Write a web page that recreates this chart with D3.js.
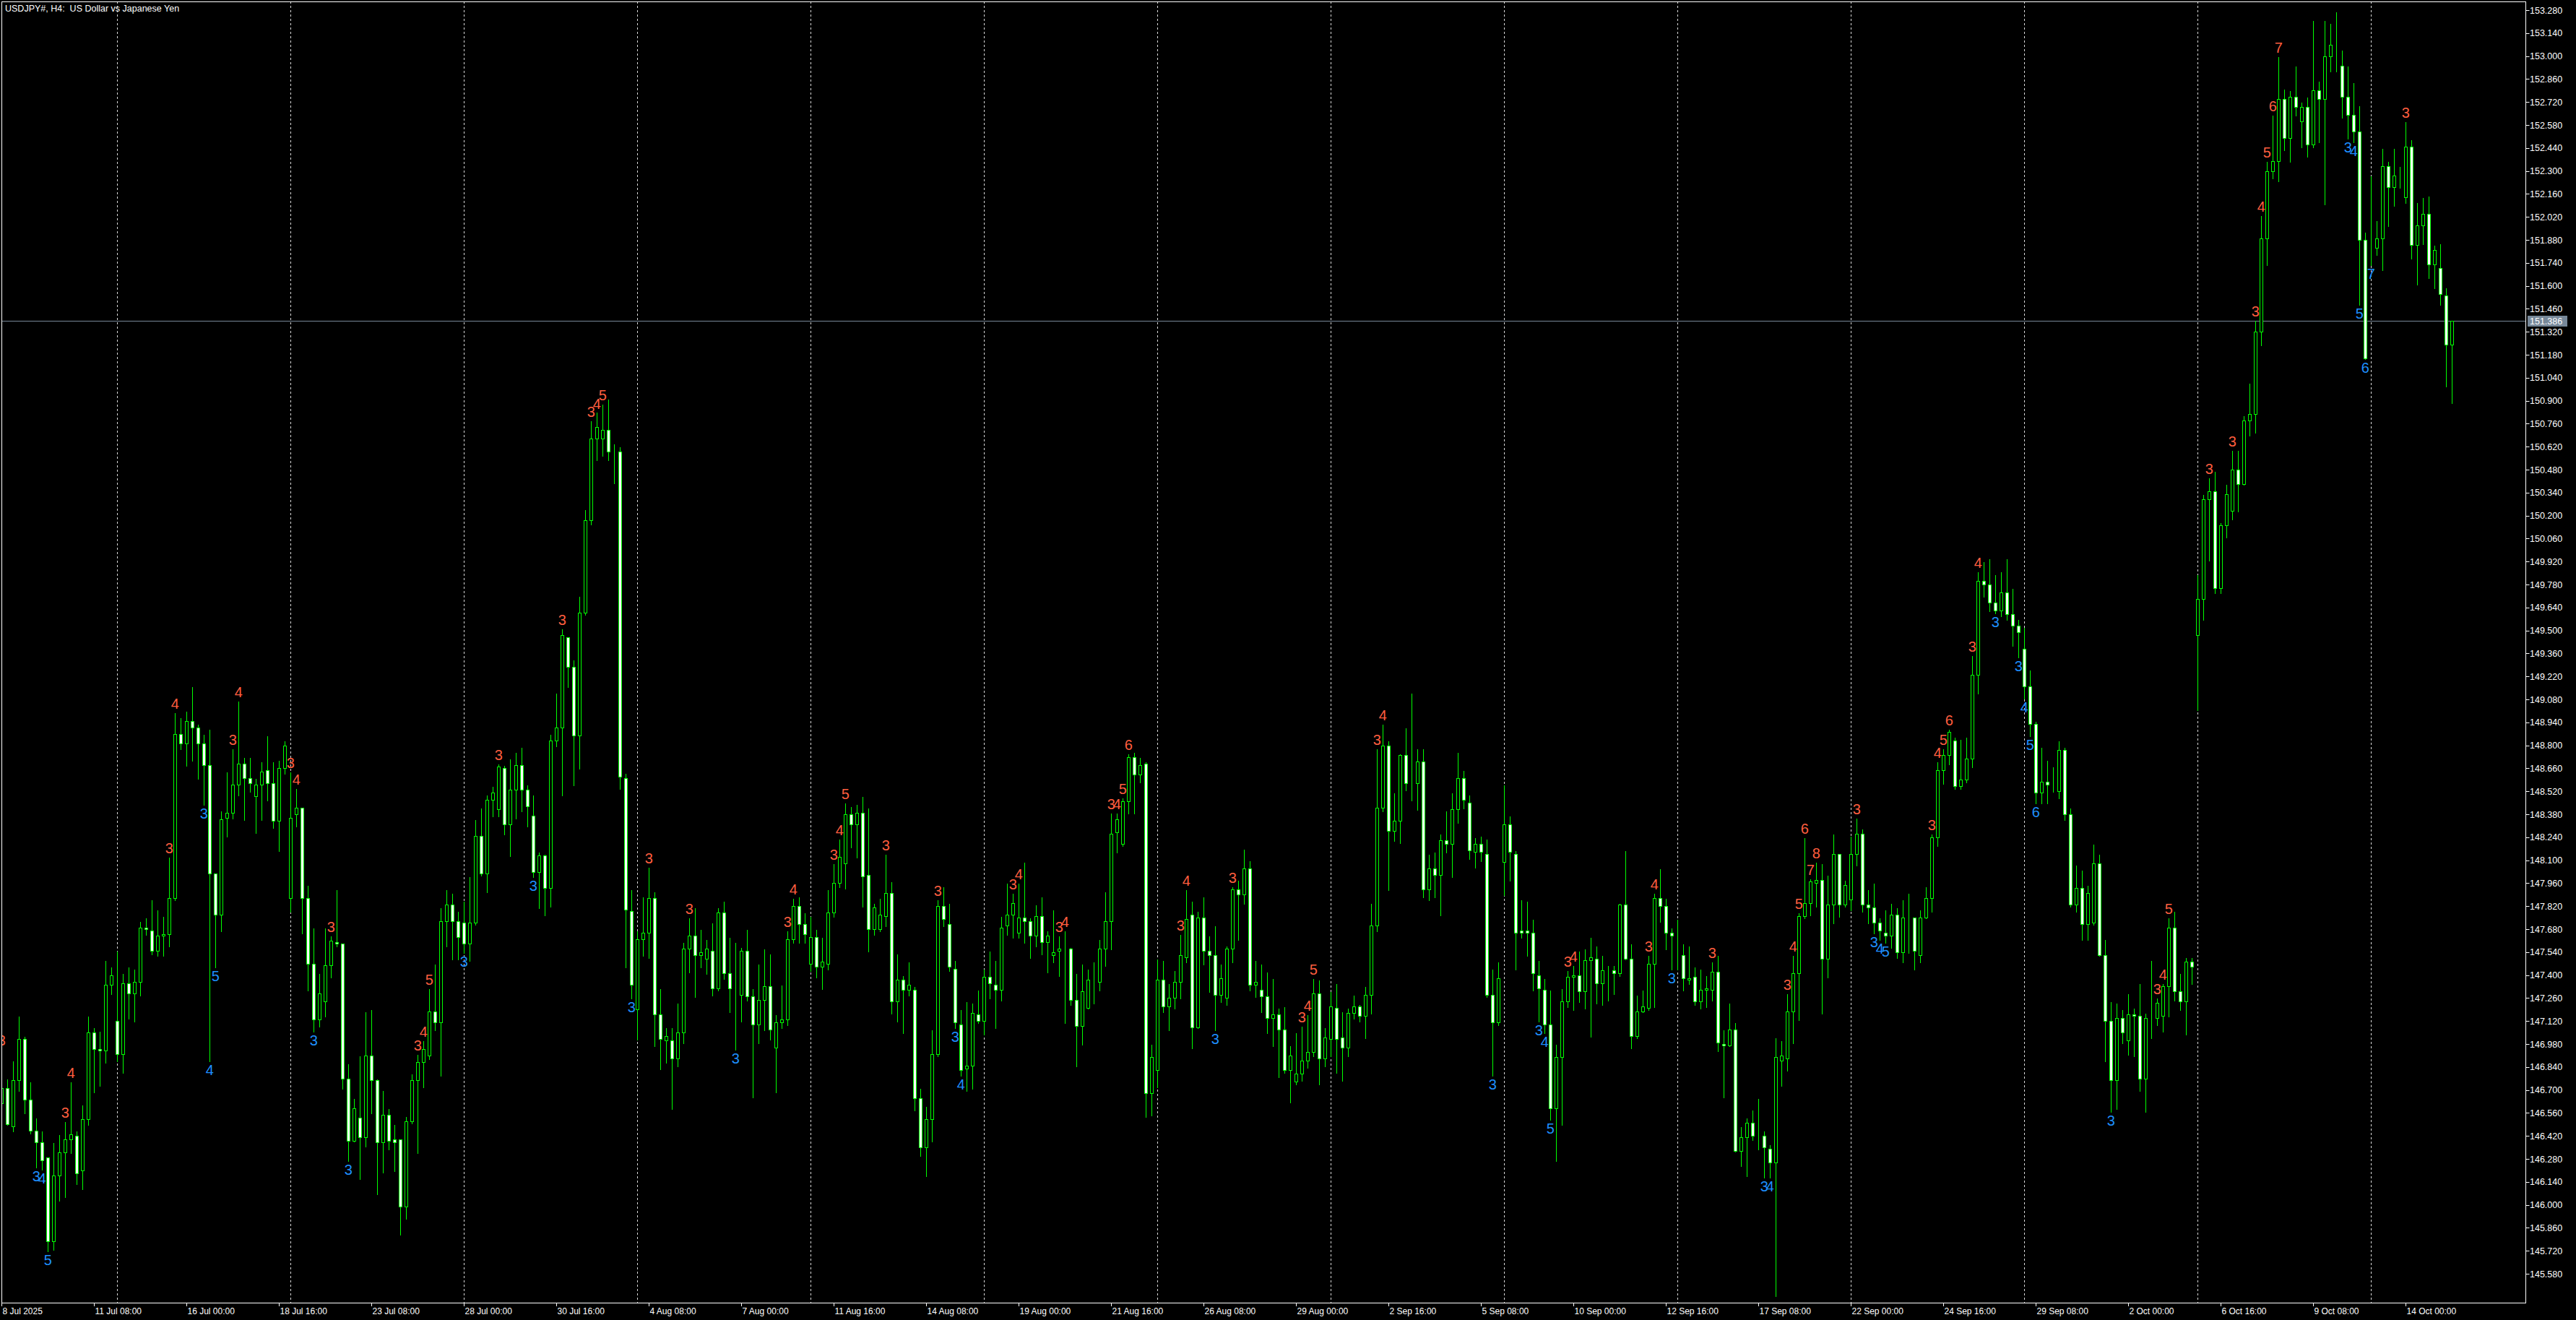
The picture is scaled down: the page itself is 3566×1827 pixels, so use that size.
<!DOCTYPE html>
<html>
<head>
<meta charset="utf-8">
<script src="https://cdn.jsdelivr.net/npm/d3@7"></script>
<style>
  html, body { margin: 0; padding: 0; background: #000; }
  svg { display: block; }
  text { font-family: "Liberation Sans", Arial, sans-serif; }
</style>
</head>
<body>
<svg id="chart"></svg>
<script>
const symbolTitle = "USDJPY#, H4:  US Dollar vs Japanese Yen";

// H4 bars, [open, high, low, close], first bar 8 Jul 16:00
const bars = [
  // 8 Jul - 11 Jul
  [146.62,146.95,146.58,146.71],[146.71,146.77,146.49,146.49],[146.48,146.88,146.45,146.76],[146.76,147.15,146.70,147.01],
  [147.01,147.03,146.56,146.64],[146.64,146.75,146.44,146.45],[146.45,146.53,146.23,146.38],[146.38,146.45,146.22,146.27],
  [146.29,146.29,145.72,145.78],[145.78,146.38,145.73,146.18],[146.18,146.43,146.03,146.32],[146.32,146.51,146.05,146.40],
  [146.40,146.75,146.32,146.43],[146.42,146.45,146.13,146.19],[146.21,146.61,146.10,146.52],[146.52,147.15,146.49,147.05],
  [147.05,147.08,146.69,146.95],[146.95,147.06,146.73,146.94],[146.94,147.49,146.87,147.34],[147.34,147.45,147.29,147.40],
  // 14 Jul
  [147.12,147.55,146.88,146.92],[146.92,147.41,146.81,147.35],[147.35,147.45,147.14,147.29],[147.29,147.44,147.12,147.36],
  [147.36,147.73,147.28,147.69],[147.69,147.75,147.65,147.68],[147.67,147.86,147.53,147.55],[147.55,147.80,147.52,147.64],
  [147.64,147.76,147.52,147.65],[147.65,148.12,147.58,147.87],[147.87,149.00,147.86,148.87],[148.87,148.97,148.78,148.81],
  [148.81,149.01,148.68,148.95],[148.95,149.16,148.71,148.91],[148.91,148.93,148.60,148.81],[148.81,148.87,148.44,148.68],
  [148.68,148.90,146.88,148.02],[148.02,148.02,147.45,147.77],[147.77,148.40,147.67,148.35],[148.36,148.64,148.25,148.39],
  [148.39,148.78,148.36,148.56],[148.56,149.07,148.50,148.69],[148.69,148.73,148.35,148.60],[148.60,148.73,148.52,148.57],
  [148.49,148.60,148.27,148.56],[148.56,148.70,148.35,148.64],[148.65,148.86,148.47,148.57],[148.57,148.70,148.30,148.34],
  [148.34,148.71,148.16,148.66],[148.66,148.83,148.63,148.80],
  // 21 Jul
  [147.87,148.64,147.79,148.36],[148.38,148.54,148.31,148.42],[148.42,148.42,147.66,147.87],[147.87,147.95,147.31,147.47],
  [147.47,147.69,147.06,147.13],[147.13,147.41,147.09,147.29],[147.24,147.69,147.15,147.46],[147.46,147.64,147.39,147.61],
  [147.60,147.92,147.58,147.59],[147.59,147.59,146.71,146.77],[146.77,146.86,146.27,146.39],[146.39,146.65,146.39,146.59],
  [146.53,146.91,146.16,146.41],[146.41,147.18,146.36,146.91],[146.91,147.19,146.56,146.76],[146.76,146.77,146.07,146.38],
  [146.38,146.70,146.20,146.55],[146.55,146.59,146.34,146.39],[146.40,146.49,146.21,146.38],[146.40,146.40,145.82,145.99],
  [145.99,146.54,145.92,146.51],[146.51,146.80,146.50,146.76],[146.76,146.92,146.32,146.87],[146.87,147.00,146.72,146.95],
  [146.91,147.32,146.89,147.18],[147.18,147.47,147.07,147.11],[147.11,147.81,146.79,147.73],[147.73,147.92,147.58,147.83],
  [147.83,147.90,147.50,147.73],[147.73,147.79,147.50,147.63],
  // 28 Jul
  [147.72,147.85,147.54,147.59],[147.59,148.00,147.49,147.72],[147.72,148.35,147.71,148.25],[148.25,148.42,148.01,148.02],
  [148.02,148.50,147.91,148.47],[148.47,148.55,148.37,148.51],[148.41,148.69,148.37,148.67],[148.66,148.68,148.26,148.32],
  [148.32,148.72,148.13,148.53],[148.53,148.76,148.36,148.68],[148.68,148.79,148.40,148.53],[148.53,148.56,148.31,148.43],
  [148.37,148.50,148.00,148.03],[148.03,148.15,147.81,148.13],[148.13,148.14,147.77,147.93],[147.93,148.87,147.82,148.83],
  [148.83,149.12,148.80,148.91],[148.91,149.51,148.50,149.47],[149.46,149.46,149.16,149.28],[149.28,149.32,148.56,148.86],
  [148.86,149.71,148.66,149.61],[149.61,150.24,149.60,150.17],[150.17,150.78,150.15,150.67],[150.67,150.83,150.54,150.74],
  [150.67,150.88,150.57,150.72],[150.72,150.91,150.54,150.59],[150.59,150.64,150.40,150.59],[150.59,150.62,148.54,148.61],
  [148.60,148.63,147.45,147.80],[147.79,147.92,147.26,147.34],
  // 4 Aug
  [147.19,147.67,147.01,147.62],[147.62,147.88,147.52,147.66],[147.66,148.06,147.51,147.87],[147.87,147.91,146.97,147.16],
  [147.16,147.32,146.83,147.01],[147.00,147.08,146.87,147.03],[147.00,147.08,146.59,146.89],[146.89,147.23,146.85,147.05],
  [147.05,147.60,146.99,147.56],[147.56,147.75,147.42,147.64],[147.64,147.81,147.27,147.52],[147.52,147.68,147.45,147.54],
  [147.50,147.62,147.41,147.56],[147.55,147.72,147.28,147.32],[147.32,147.81,147.31,147.78],[147.78,147.85,147.38,147.41],
  [147.41,147.63,147.18,147.32],[147.32,147.60,146.95,147.32],[147.28,147.57,147.12,147.55],[147.55,147.68,147.25,147.27],
  [147.27,147.32,146.66,147.10],[147.10,147.47,146.99,147.25],[147.25,147.56,147.07,147.33],[147.33,147.53,147.01,147.07],
  [146.96,147.16,146.69,147.11],[147.11,147.34,147.08,147.13],[147.13,147.67,147.10,147.62],[147.62,147.87,147.60,147.82],
  [147.82,147.88,147.60,147.71],[147.71,147.78,147.60,147.65],
  // 11 Aug
  [147.47,147.76,147.43,147.63],[147.63,147.68,147.39,147.45],[147.45,147.63,147.32,147.48],[147.47,147.92,147.44,147.78],
  [147.78,148.08,147.76,147.96],[147.96,148.23,147.94,148.12],[148.08,148.45,147.93,148.38],[148.38,148.43,148.18,148.32],
  [148.32,148.44,148.12,148.39],[148.39,148.49,147.82,148.00],[148.01,148.42,147.55,147.68],[147.68,147.84,147.65,147.81],
  [147.68,147.87,147.67,147.77],[147.76,148.14,147.70,147.90],[147.90,147.97,147.17,147.24],[147.24,147.53,147.12,147.37],
  [147.37,147.40,147.05,147.31],[147.31,147.48,147.28,147.34],[147.31,147.33,146.58,146.65],[146.65,146.71,146.30,146.35],
  [146.35,146.60,146.18,146.52],[146.52,147.07,146.39,146.92],[146.92,147.86,146.91,147.82],[147.82,147.94,147.70,147.74],
  [147.71,147.84,147.43,147.45],[147.44,147.49,147.08,147.11],[147.10,147.19,146.79,146.82],[146.83,147.24,146.70,146.85],
  [146.85,147.23,146.71,147.17],[147.16,147.31,147.11,147.12],
  // 18 Aug
  [147.12,147.44,147.04,147.39],[147.39,147.55,147.26,147.35],[147.34,147.49,147.08,147.31],[147.31,147.76,147.25,147.69],
  [147.70,147.96,147.65,147.77],[147.77,147.90,147.63,147.84],[147.66,147.96,147.63,147.75],[147.75,148.09,147.60,147.73],
  [147.73,147.75,147.51,147.64],[147.64,147.83,147.58,147.76],[147.76,147.88,147.53,147.60],[147.60,147.67,147.42,147.64],
  [147.52,147.80,147.48,147.54],[147.55,147.64,147.40,147.56],[147.56,147.67,147.11,147.56],[147.56,147.57,147.22,147.25],
  [147.25,147.41,146.85,147.09],[147.09,147.47,146.98,147.30],[147.20,147.44,147.20,147.37],[147.36,147.48,147.23,147.36],
  [147.36,147.62,147.31,147.56],[147.56,147.91,147.46,147.73],[147.73,148.39,147.56,148.26],[148.27,148.39,148.15,148.35],
  [148.20,148.48,148.19,148.46],[148.46,148.75,148.39,148.73],[148.73,148.76,148.39,148.62],[148.62,148.73,148.58,148.68],
  [148.69,148.70,146.54,146.68],[146.68,146.98,146.55,146.90],
  // 25 Aug
  [146.82,147.50,146.72,147.37],[147.37,147.49,147.18,147.21],[147.21,147.35,147.07,147.26],[147.26,147.43,147.20,147.36],
  [147.36,147.65,147.26,147.52],[147.51,147.92,147.48,147.74],[147.77,147.85,146.96,147.08],[147.08,147.79,147.08,147.75],
  [147.75,147.88,147.47,147.55],[147.55,147.64,147.30,147.52],[147.52,147.70,147.07,147.28],[147.28,147.47,147.24,147.38],
  [147.26,147.58,147.22,147.56],[147.56,147.94,147.48,147.92],[147.92,147.98,147.62,147.89],[147.89,148.17,147.84,148.05],
  [148.05,148.10,147.31,147.34],[147.34,147.49,147.27,147.36],[147.31,147.47,147.18,147.27],[147.27,147.42,147.05,147.14],
  [147.14,147.38,146.97,147.16],[147.16,147.20,146.78,147.07],[147.07,147.21,146.81,146.82],[146.82,146.97,146.63,146.91],
  [146.75,147.05,146.74,146.80],[146.80,147.09,146.76,146.88],[146.88,147.16,146.84,146.93],[146.93,147.38,146.91,147.29],
  [147.29,147.37,146.74,146.89],[146.89,147.08,146.85,147.02],
  // 1 Sep
  [147.01,147.30,146.91,147.21],[147.20,147.35,146.81,147.01],[147.02,147.18,146.76,146.96],[146.96,147.20,146.91,147.17],
  [147.17,147.28,147.14,147.21],[147.21,147.22,147.12,147.15],[147.15,147.33,147.02,147.28],[147.28,147.84,147.17,147.70],
  [147.70,148.78,147.67,148.42],[148.42,148.93,148.40,148.80],[148.80,148.83,147.92,148.28],[148.28,148.51,148.22,148.34],
  [148.34,148.75,148.21,148.74],[148.74,148.91,148.53,148.57],[148.57,149.12,148.47,148.57],[148.57,148.78,148.41,148.70],
  [148.70,148.78,147.88,147.92],[147.92,148.14,147.86,148.05],[148.05,148.15,147.88,148.01],[148.01,148.26,147.77,148.22],
  [148.22,148.40,148.15,148.20],[148.20,148.51,148.00,148.41],[148.41,148.76,148.33,148.60],[148.60,148.65,148.42,148.47],
  [148.45,148.50,148.11,148.16],[148.15,148.24,148.06,148.20],[148.20,148.25,148.10,148.15],[148.14,148.23,147.27,147.28],
  [147.28,147.44,146.79,147.11],[147.11,147.48,147.10,147.38],
  // 8 Sep
  [148.09,148.56,147.89,148.32],[148.32,148.37,147.98,148.15],[148.14,148.16,147.44,147.66],[147.67,147.86,147.63,147.66],
  [147.67,147.85,147.52,147.66],[147.66,147.74,147.31,147.41],[147.40,147.49,147.12,147.32],[147.31,147.38,147.05,147.10],
  [147.10,147.31,146.52,146.59],[146.59,146.98,146.27,146.90],[146.90,147.32,146.49,147.24],[147.24,147.43,147.21,147.39],
  [147.39,147.46,147.19,147.40],[147.40,147.55,147.24,147.30],[147.30,147.56,147.20,147.49],[147.49,147.63,147.03,147.51],
  [147.50,147.58,147.23,147.35],[147.35,147.52,147.22,147.43],[147.44,147.46,147.25,147.44],[147.43,147.46,147.29,147.41],
  [147.41,147.84,147.40,147.83],[147.83,148.16,147.50,147.50],[147.50,147.59,146.96,147.03],[147.03,147.28,147.02,147.18],
  [147.18,147.31,147.18,147.21],[147.20,147.52,147.19,147.47],[147.47,147.90,147.21,147.87],[147.87,148.05,147.73,147.82],
  [147.82,147.87,147.56,147.66],[147.66,147.69,147.44,147.64],
  // 15 Sep
  [147.52,147.74,147.44,147.52],[147.52,147.59,147.31,147.38],[147.37,147.58,147.35,147.38],[147.39,147.45,147.22,147.24],
  [147.24,147.44,147.20,147.31],[147.31,147.40,147.21,147.32],[147.31,147.48,147.25,147.42],[147.42,147.52,146.94,146.99],
  [146.98,147.07,146.66,146.97],[146.97,147.23,146.97,147.07],[147.07,147.11,146.33,146.33],[146.33,146.48,146.24,146.41],
  [146.41,146.53,146.18,146.50],[146.50,146.58,146.40,146.42],[146.42,146.65,146.34,146.42],[146.42,146.45,146.17,146.35],
  [146.34,146.37,146.17,146.26],[146.26,147.02,145.45,146.90],[146.88,147.00,146.73,146.91],[146.89,147.29,146.82,147.18],
  [147.18,147.52,146.99,147.41],[147.41,147.78,147.13,147.76],[147.76,148.24,147.75,147.84],[147.84,147.99,147.77,147.97],
  [147.96,148.09,147.82,147.98],[147.98,148.08,147.17,147.50],[147.50,148.01,147.39,147.83],[147.83,148.26,147.72,148.14],
  [148.14,148.14,147.76,147.83],[147.83,147.98,147.82,147.95],
  // 22 Sep
  [147.86,148.25,147.80,148.14],[148.14,148.36,148.07,148.26],[148.26,148.29,147.79,147.83],[147.83,147.92,147.72,147.81],
  [147.81,147.96,147.66,147.72],[147.72,147.75,147.62,147.67],[147.66,147.80,147.60,147.64],[147.64,147.84,147.57,147.77],
  [147.77,147.81,147.51,147.54],[147.54,147.86,147.48,147.75],[147.75,147.90,147.54,147.75],[147.75,147.75,147.44,147.55],
  [147.52,147.80,147.48,147.75],[147.75,147.94,147.75,147.87],[147.87,148.26,147.79,148.24],[148.24,148.70,148.19,148.65],
  [148.65,148.78,148.57,148.74],[148.74,148.90,148.69,148.88],[148.83,148.85,148.54,148.55],[148.55,148.84,148.54,148.59],
  [148.59,148.85,148.58,148.72],[148.72,149.35,148.67,149.23],[149.23,149.86,149.12,149.80],[149.80,149.92,149.71,149.78],
  [149.78,149.94,149.62,149.67],[149.67,149.84,149.61,149.62],[149.62,149.86,149.59,149.73],[149.73,149.94,149.57,149.60],
  [149.60,149.76,149.41,149.53],[149.53,149.57,149.34,149.49],
  // 29 Sep
  [149.39,149.52,149.09,149.16],[149.16,149.26,148.86,148.93],[148.93,148.95,148.45,148.51],[148.51,148.79,148.45,148.58],
  [148.58,148.71,148.45,148.56],[148.57,148.67,148.52,148.57],[148.52,148.83,148.48,148.77],[148.77,148.79,148.35,148.38],
  [148.38,148.42,147.82,147.83],[147.83,148.07,147.79,147.93],[147.93,148.04,147.62,147.71],[147.71,147.95,147.62,147.90],
  [147.72,148.20,147.71,148.08],[148.08,148.14,147.52,147.52],[147.52,147.62,146.88,147.12],[147.12,147.24,146.57,146.76],
  [146.76,147.23,146.59,147.14],[147.14,147.19,146.99,147.05],[147.00,147.29,146.92,147.16],[147.16,147.20,146.91,147.15],
  [147.15,147.35,146.70,146.77],[146.77,147.17,146.57,147.14],[147.14,147.49,147.02,147.14],[147.14,147.26,147.10,147.23],
  [147.15,147.35,147.06,147.33],[147.33,147.75,147.15,147.69],[147.69,147.79,147.25,147.30],[147.30,147.41,147.19,147.24],
  [147.24,147.51,147.04,147.48],[147.48,147.51,147.35,147.45],
  // 6 Oct
  [149.47,149.84,149.02,149.69],[149.69,150.33,149.57,150.30],[150.30,150.43,149.93,150.35],[150.35,150.47,149.73,149.76],
  [149.76,150.16,149.73,150.14],[150.14,150.39,150.07,150.33],[150.23,150.60,150.18,150.48],[150.48,150.60,150.23,150.39],
  [150.39,150.81,150.39,150.78],[150.78,151.01,150.69,150.82],[150.82,151.39,150.71,151.32],[151.32,152.03,151.24,151.89],
  [151.89,152.36,151.73,152.30],[152.30,152.64,152.26,152.36],[152.36,153.00,152.24,152.74],[152.74,152.80,152.43,152.50],
  [152.50,152.79,152.36,152.75],[152.75,152.94,152.64,152.69],[152.60,152.72,152.45,152.69],[152.69,152.75,152.39,152.46],
  [152.46,153.22,152.45,152.79],[152.79,152.85,152.48,152.74],[152.74,153.22,152.10,153.00],[153.00,153.20,152.91,153.07],
  [152.95,153.27,152.91,152.95],[152.94,153.04,152.63,152.75],[152.75,152.94,152.50,152.64],[152.64,152.84,152.48,152.54],
  [152.54,152.70,151.49,151.88],[151.88,151.93,151.16,151.16],
  // 13 Oct
  [151.84,152.27,151.73,151.84],[151.83,152.00,151.79,151.89],[151.89,152.44,151.70,152.33],[152.33,152.36,151.97,152.20],
  [152.20,152.44,152.09,152.27],[152.28,152.33,152.20,152.28],[152.14,152.60,152.11,152.45],[152.45,152.49,151.77,151.85],
  [151.85,152.11,151.61,151.97],[151.97,152.14,151.86,152.04],[152.04,152.15,151.65,151.73],[151.73,151.85,151.59,151.82],
  [151.71,151.86,151.49,151.55],[151.54,151.59,150.99,151.24],[151.24,151.39,150.89,151.386]
];

const bidPrice = 151.386;

const priceTicks = [
  145.58,145.72,145.86,146.00,146.14,146.28,146.42,146.56,146.70,146.84,146.98,147.12,147.26,147.40,
  147.54,147.68,147.82,147.96,148.10,148.24,148.38,148.52,148.66,148.80,148.94,149.08,149.22,149.36,
  149.50,149.64,149.78,149.92,150.06,150.20,150.34,150.48,150.62,150.76,150.90,151.04,151.18,151.32,
  151.46,151.60,151.74,151.88,152.02,152.16,152.30,152.44,152.58,152.72,152.86,153.00,153.14,153.28
];

// [bar index, label]
const timeLabels = [
  [0,"8 Jul 2025"],[16,"11 Jul 08:00"],[32,"16 Jul 00:00"],[48,"18 Jul 16:00"],[64,"23 Jul 08:00"],
  [80,"28 Jul 00:00"],[96,"30 Jul 16:00"],[112,"4 Aug 08:00"],[128,"7 Aug 00:00"],[144,"11 Aug 16:00"],
  [160,"14 Aug 08:00"],[176,"19 Aug 00:00"],[192,"21 Aug 16:00"],[208,"26 Aug 08:00"],[224,"29 Aug 00:00"],
  [240,"2 Sep 16:00"],[256,"5 Sep 08:00"],[272,"10 Sep 00:00"],[288,"12 Sep 16:00"],[304,"17 Sep 08:00"],
  [320,"22 Sep 00:00"],[336,"24 Sep 16:00"],[352,"29 Sep 08:00"],[368,"2 Oct 00:00"],[384,"6 Oct 16:00"],
  [400,"9 Oct 08:00"],[416,"14 Oct 00:00"]
];

// Monday 00:00 bars (weekly grid)
const weekStarts = [20,50,80,110,140,170,200,230,260,290,320,350,380,410];

// count labels: [bar index, number]
const upCounts = [
  [0,3],[11,3],[12,4],[29,3],[30,4],[40,3],[41,4],[50,3],[51,4],[57,3],[72,3],[73,4],[74,5],[86,3],
  [97,3],[102,3],[103,4],[104,5],[112,3],[119,3],[136,3],[137,4],[144,3],[145,4],[146,5],[153,3],[162,3],
  [175,3],[176,4],[183,3],[184,4],[192,3],[193,4],[194,5],[195,6],[204,3],[205,4],[213,3],[225,3],[226,4],
  [227,5],[238,3],[239,4],[271,3],[272,4],[285,3],[286,4],[296,3],[309,3],[310,4],[311,5],[312,6],[313,7],
  [314,8],[321,3],[334,3],[335,4],[336,5],[337,6],[341,3],[342,4],[373,3],[374,4],[375,5],[382,3],[386,3],
  [390,3],[391,4],[392,5],[393,6],[394,7],[416,3]
];
const downCounts = [
  [6,3],[7,4],[8,5],[35,3],[36,4],[37,5],[54,3],[60,3],[80,3],[92,3],[109,3],[127,3],[165,3],[166,4],
  [210,3],[258,3],[266,3],[267,4],[268,5],[289,3],[305,3],[306,4],[324,3],[325,4],[326,5],[345,3],
  [349,3],[350,4],[351,5],[352,6],[365,3],[406,3],[407,4],[408,5],[409,6],[410,7]
];

const W = 3566, H = 1827;
const plot = { left: 2, top: 2, right: 3496, bottom: 1803 };

const svg = d3.select("#chart").attr("width", W).attr("height", H);
svg.append("rect").attr("width", W).attr("height", H).attr("fill", "#000");

const x = d3.scaleLinear().domain([0, 424]).range([2.3, 2.3 + 8 * 424]);
const y = d3.scaleLinear().domain([145.58, 153.28]).range([1763, 14]);
const px = i => Math.round(x(i)) + 0.5;
const py = v => Math.round(y(v)) + 0.5;

svg.append("clipPath").attr("id", "plotClip")
  .append("rect")
  .attr("x", plot.left + 1).attr("y", plot.top + 1)
  .attr("width", plot.right - plot.left - 1).attr("height", plot.bottom - plot.top - 1);

const g = svg.append("g").attr("clip-path", "url(#plotClip)");

// weekly grid
g.append("g").selectAll("line")
  .data(weekStarts)
  .enter().append("line")
  .attr("x1", d => px(d)).attr("x2", d => px(d))
  .attr("y1", plot.top).attr("y2", plot.bottom)
  .attr("stroke", "#d8d8d8")
  .attr("stroke-width", 1)
  .attr("stroke-dasharray", "3,3");

// bid line
g.append("line")
  .attr("x1", plot.left).attr("x2", plot.right)
  .attr("y1", py(bidPrice)).attr("y2", py(bidPrice))
  .attr("stroke", "#778899").attr("stroke-width", 1);

// candles
const candles = g.append("g").attr("shape-rendering", "crispEdges")
  .selectAll("g")
  .data(bars)
  .enter().append("g");

candles.append("line")
  .attr("x1", (d, i) => px(i)).attr("x2", (d, i) => px(i))
  .attr("y1", d => py(d[1])).attr("y2", d => py(d[2]) + 1)
  .attr("stroke", "#00ff00").attr("stroke-width", 1);

candles.append("rect")
  .attr("x", (d, i) => px(i) - 2)
  .attr("width", 4)
  .attr("y", d => py(Math.max(d[0], d[3])))
  .attr("height", d => Math.max(0, py(Math.min(d[0], d[3])) - py(Math.max(d[0], d[3]))))
  .attr("fill", d => d[3] < d[0] ? "#ffffff" : "#000000")
  .attr("stroke", "#00ff00").attr("stroke-width", 1);

// count numbers
const countFont = 20;
g.append("g").selectAll("text")
  .data(upCounts)
  .enter().append("text")
  .attr("x", d => x(d[0]))
  .attr("y", d => y(bars[d[0]][1]) - 5)
  .attr("text-anchor", "middle")
  .attr("font-size", countFont)
  .attr("fill", "#ff5e3f")
  .text(d => d[1]);

g.append("g").selectAll("text")
  .data(downCounts)
  .enter().append("text")
  .attr("x", d => x(d[0]))
  .attr("y", d => y(bars[d[0]][2]) + 20)
  .attr("text-anchor", "middle")
  .attr("font-size", countFont)
  .attr("fill", "#1e90ff")
  .text(d => d[1]);

// frame
svg.append("rect")
  .attr("x", plot.left + 0.5).attr("y", plot.top + 0.5)
  .attr("width", plot.right - plot.left).attr("height", plot.bottom - plot.top)
  .attr("fill", "none").attr("stroke", "#ffffff").attr("stroke-width", 1);

// price axis
const pAxis = svg.append("g");
pAxis.selectAll("line")
  .data(priceTicks)
  .enter().append("line")
  .attr("x1", plot.right + 0.5).attr("x2", plot.right + 5.5)
  .attr("y1", d => py(d)).attr("y2", d => py(d))
  .attr("stroke", "#ffffff");
pAxis.selectAll("text")
  .data(priceTicks)
  .enter().append("text")
  .attr("x", plot.right + 6)
  .attr("y", d => y(d) + 4.5)
  .attr("font-size", 12.5)
  .attr("fill", "#ffffff")
  .text(d => d.toFixed(3));

// bid label
svg.append("rect")
  .attr("x", plot.right + 3).attr("y", Math.round(y(bidPrice)) - 7)
  .attr("width", 55).attr("height", 15)
  .attr("fill", "#778899");
svg.append("text")
  .attr("x", plot.right + 6)
  .attr("y", y(bidPrice) + 4.5)
  .attr("font-size", 12.5)
  .attr("fill", "#ffffff")
  .text(bidPrice.toFixed(3));

// time axis
const tAxis = svg.append("g");
tAxis.selectAll("line")
  .data(timeLabels)
  .enter().append("line")
  .attr("x1", d => px(d[0])).attr("x2", d => px(d[0]))
  .attr("y1", plot.bottom).attr("y2", plot.bottom + 5)
  .attr("stroke", "#ffffff");
tAxis.selectAll("text")
  .data(timeLabels)
  .enter().append("text")
  .attr("x", d => Math.max(2, px(d[0]) + 1))
  .attr("y", plot.bottom + 16)
  .attr("font-size", 12)
  .attr("fill", "#ffffff")
  .text(d => d[1]);

// title (keeps the double space)
svg.append("text")
  .attr("x", 7).attr("y", 16)
  .attr("font-size", 12.5)
  .attr("fill", "#ffffff")
  .style("white-space", "pre")
  .attr("xml:space", "preserve")
  .text(symbolTitle);
</script>
</body>
</html>
